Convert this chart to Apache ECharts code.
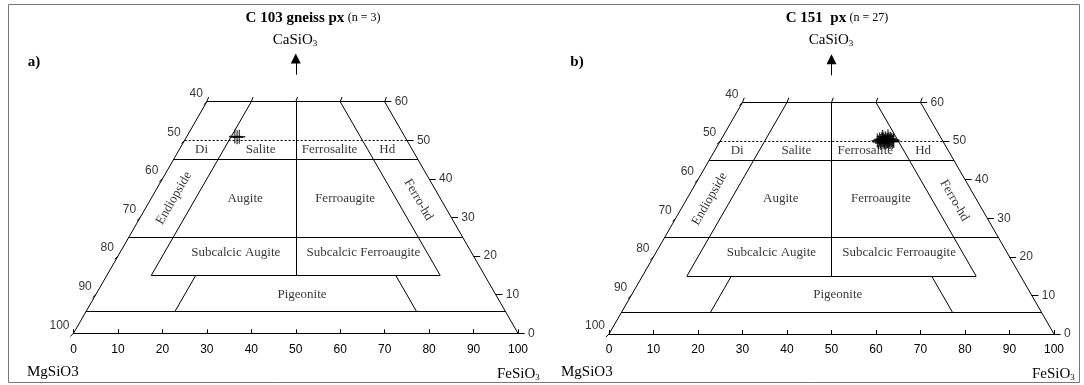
<!DOCTYPE html>
<html>
<head>
<meta charset="utf-8">
<script src="https://cdn.jsdelivr.net/npm/echarts@6/dist/echarts.min.js"></script>
<style>
  html, body { margin: 0; padding: 0; background: #fff; }
  #chart { width: 1084px; height: 385px; }
</style>
</head>
<body>
<div id="chart"></div>
<script>
// quadrilateral boundaries, in diagram units: [FeSiO3 axis, CaSiO3 %]
const outlineLines = [
  [[0, 0], [30, 60]],
  [[100, 0], [70, 60]],
  [[30, 60], [70, 60]]
];
const fieldLines = [
  [[22.5, 45], [77.5, 45]],
  [[12.5, 25], [87.5, 25]],
  [[17.5, 15], [82.5, 15]],
  [[2.8, 5.6], [97.2, 5.6]],
  [[17.5, 15], [40, 60]],
  [[82.5, 15], [60, 60]],
  [[50, 15], [50, 60]],
  [[22.8, 5.6], [27.5, 15]],
  [[77.2, 5.6], [72.5, 15]]
];
const dottedLines = [
  [[25, 50], [75, 50]]
];
const sideTickValues = [0, 10, 20, 30, 40, 50, 60];
const leftSideLabels = ['100', '90', '80', '70', '60', '50', '40'];
const rightSideLabels = ['0', '10', '20', '30', '40', '50', '60'];
const topTickValues = [30, 40, 50, 60, 70];

const fieldNames = ['Di', 'Salite', 'Ferrosalite', 'Hd', 'Augite', 'Ferroaugite',
  'Subcalcic Augite', 'Subcalcic Ferroaugite', 'Pigeonite', 'Endiopside', 'Ferro-hd'];
const fieldX = [28.8, 42.1, 57.6, 70.6, 38.6, 61.1, 36.5, 65.2, 51.4, 22.6, 77.6];
const fieldY = [47.5, 47.5, 47.5, 47.5, 35, 35, 21, 21, 10.1, 35, 34.6];

// C 103 gneiss px, n = 3
const pointsA = [[36.3, 51.0], [36.8, 50.8], [37.3, 50.9]];
// C 151 px, n = 27
const pointsB = [
  [60.3, 50.1], [60.6, 49.7], [60.8, 50.4], [61.0, 50.0], [61.1, 49.5], [61.3, 50.6],
  [61.4, 50.2], [61.6, 49.8], [61.7, 50.4], [61.9, 50.0], [62.0, 49.6], [62.1, 50.7],
  [62.2, 50.2], [62.4, 49.9], [62.5, 50.4], [62.6, 50.0], [62.8, 49.7], [62.9, 50.5],
  [63.0, 50.1], [63.2, 49.9], [63.3, 50.6], [63.5, 50.2], [63.7, 49.8], [63.9, 50.3],
  [64.0, 50.0], [61.5, 51.1], [62.7, 51.2]
];

const SERIF = "'Liberation Serif', 'Times New Roman', serif";
const SANS = "'Liberation Sans', Arial, sans-serif";
const fieldRotate = {'Endiopside': 60, 'Ferro-hd': -60};

const chart = echarts.init(document.getElementById('chart'));

function segs(list) {
  return list.map(c => ({coords: c}));
}

function panelSeries(i, points) {
  const ax = {xAxisIndex: i, yAxisIndex: i};
  const leftTicks = sideTickValues.map(v => [[v / 2, v], [v / 2 - 0.7, v - 0.8]]);
  const rightTicks = sideTickValues.map(v => [[100 - v / 2, v], [100 - v / 2 + 1.5, v]]);
  const topTicks = topTickValues.map(v => [[v, 60], [v + 0.4, 61.2]]);
  const lineStyle = {color: '#000', width: 1, opacity: 1};
  return [
    Object.assign({
      type: 'lines', coordinateSystem: 'cartesian2d', polyline: false, silent: true,
      lineStyle: lineStyle, symbol: 'none', clip: false,
      data: segs(outlineLines.concat(fieldLines, leftTicks, rightTicks, topTicks))
    }, ax),
    Object.assign({
      type: 'lines', coordinateSystem: 'cartesian2d', silent: true, clip: false,
      lineStyle: {color: '#000', width: 1, opacity: 1, type: [2, 2]},
      data: segs(dottedLines)
    }, ax),
    Object.assign({
      type: 'lines', coordinateSystem: 'cartesian2d', silent: true, clip: false,
      lineStyle: lineStyle, symbol: ['none', 'triangle'], symbolSize: [8, 10],
      data: segs([[[50, 67], [50, 71.2]]])
    }, ax),
    Object.assign({
      type: 'scatter', silent: true, symbolSize: 0,
      label: {show: true, position: 'left', distance: 4, offset: [0, -8],
        formatter: p => p.name, fontFamily: SANS, fontSize: 12, color: '#000'},
      data: sideTickValues.map((v, k) => ({name: leftSideLabels[k], value: [v / 2, v]}))
    }, ax),
    Object.assign({
      type: 'scatter', silent: true, symbolSize: 0,
      label: {show: true, position: 'right', distance: 10,
        formatter: p => p.name, fontFamily: SANS, fontSize: 12, color: '#000'},
      data: sideTickValues.map((v, k) => ({name: rightSideLabels[k], value: [100 - v / 2, v]}))
    }, ax),
    Object.assign({
      type: 'scatter', silent: true, symbolSize: 0,
      label: {show: true, position: 'inside', formatter: p => p.name,
        fontFamily: SERIF, fontSize: 13, color: '#000'},
      data: fieldNames.map((n, k) => ({
        name: n, value: [fieldX[k], fieldY[k]],
        label: {rotate: fieldRotate[n] || 0}
      }))
    }, ax),
    Object.assign({
      type: 'scatter', silent: true, z: 5,
      symbol: 'path://M0,6L10,6M5,0L5,12', symbolSize: [12, 14],
      itemStyle: {color: 'rgba(0,0,0,0)', borderColor: '#000', borderWidth: 1.3},
      data: points
    }, ax)
  ];
}

const xAxisBase = {
  type: 'value', min: 0, max: 100, interval: 10,
  axisLine: {lineStyle: {color: '#000', width: 1}},
  axisTick: {inside: true, length: 4, lineStyle: {color: '#000'}},
  axisLabel: {fontFamily: SANS, fontSize: 12, color: '#000', margin: 10},
  splitLine: {show: false}
};
const yAxisBase = {type: 'value', min: 0, max: 80, show: false};

function titleText(x, bold, n) {
  return {
    type: 'text', x: x, y: 18,
    style: {
      text: '{b|' + bold + '} {n|' + n + '}', align: 'center', verticalAlign: 'middle',
      rich: {
        b: {fontFamily: SERIF, fontSize: 15, fontWeight: 'bold', fill: '#000'},
        n: {fontFamily: SERIF, fontSize: 12, fill: '#000'}
      }
    }
  };
}
function formulaText(x, y, main, sub, align) {
  return {
    type: 'text', x: x, y: y,
    style: {
      text: '{m|' + main + '}' + (sub ? '{s|' + sub + '}' : ''),
      align: align, verticalAlign: 'middle',
      rich: {
        m: {fontFamily: SERIF, fontSize: 15, lineHeight: 16, fill: '#000'},
        s: {fontFamily: SERIF, fontSize: 9, verticalAlign: 'bottom', lineHeight: 16, fill: '#000'}
      }
    }
  };
}
function panelLetter(x, t) {
  return {type: 'text', x: x, y: 62,
    style: {text: t, font: 'bold 15px ' + SERIF, fill: '#000', align: 'center', verticalAlign: 'middle'}};
}

chart.setOption({
  animation: false,
  backgroundColor: '#fff',
  grid: [
    {left: 73.5, top: 24.5, width: 444.5, height: 308.8},
    {left: 609, top: 25.2, width: 445, height: 308.8}
  ],
  xAxis: [Object.assign({gridIndex: 0}, xAxisBase), Object.assign({gridIndex: 1}, xAxisBase)],
  yAxis: [Object.assign({gridIndex: 0}, yAxisBase), Object.assign({gridIndex: 1}, yAxisBase)],
  graphic: [
    {type: 'rect', shape: {x: 8.5, y: 4.5, width: 1071, height: 378},
      style: {fill: 'none', stroke: '#777', lineWidth: 1}},
    titleText(313, 'C 103 gneiss px', '(n = 3)'),
    titleText(837, 'C 151  px', '(n = 27)'),
    formulaText(295, 40, 'CaSiO', '3', 'center'),
    formulaText(831, 40, 'CaSiO', '3', 'center'),
    panelLetter(34, 'a)'),
    panelLetter(577, 'b)'),
    formulaText(27, 372, 'MgSiO3', '', 'left'),
    formulaText(561, 372, 'MgSiO3', '', 'left'),
    formulaText(497, 374, 'FeSiO', '3', 'left'),
    formulaText(1032, 374, 'FeSiO', '3', 'left')
  ],
  series: panelSeries(0, pointsA).concat(panelSeries(1, pointsB))
});
</script>
</body>
</html>
